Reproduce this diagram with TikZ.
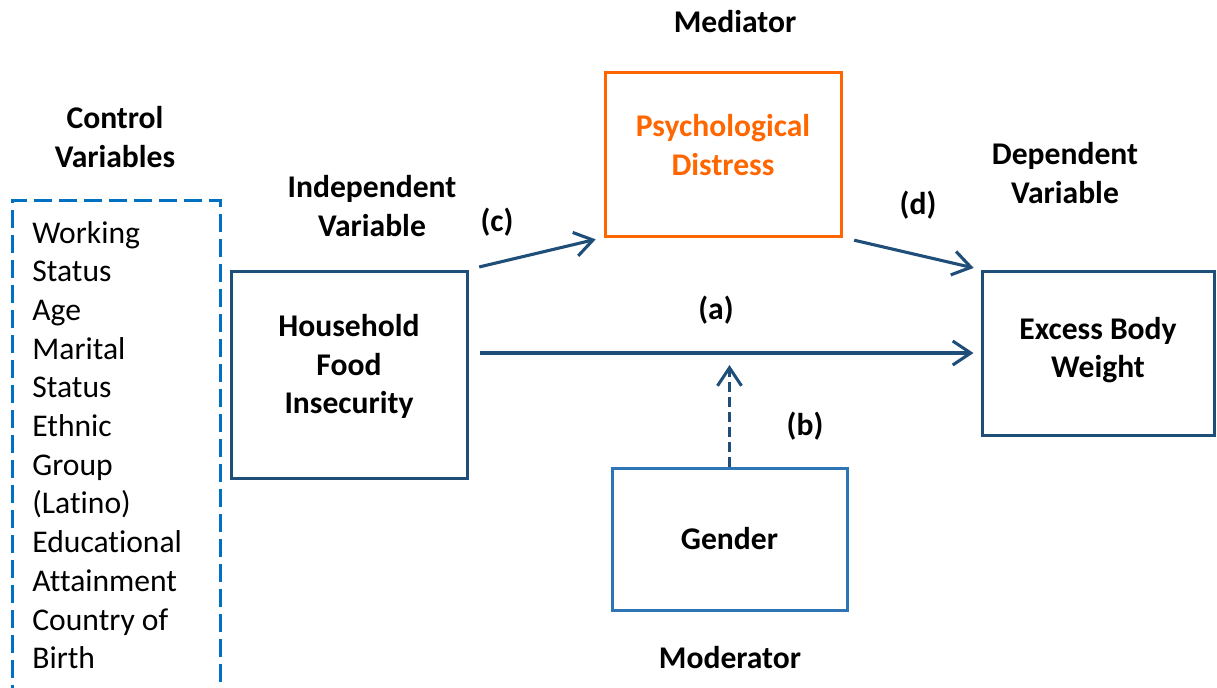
\documentclass[tikz,border=0pt]{standalone}
\usepackage{fontspec}
\setmainfont[Ligatures=NoCommon]{Carlito}
\usetikzlibrary{arrows.meta}
\definecolor{navy}{RGB}{31,78,121}
\definecolor{modblue}{RGB}{46,117,182}
\definecolor{ctrlblue}{RGB}{0,112,192}
\definecolor{medorange}{RGB}{255,102,0}

\begin{document}
\begin{tikzpicture}[x=0.5pt,y=-0.5pt,
    varbox/.style={draw=navy,line width=1.5pt,minimum width=118pt},
    lbl/.style={align=center,inner sep=1pt,font=\fontsize{15.8}{19.4}\selectfont\bfseries},
    link/.style={draw=navy,line width=1.55pt,-{Straight Barb[length=9pt,width=12pt]}}]
    \useasboundingbox (0,0) rectangle (1217,687);
    \clip (0,0) rectangle (1217,687);

    % control variables
    \node[draw=ctrlblue,line width=1.3pt,dash pattern=on 9pt off 3.5pt,
          minimum width=104pt,minimum height=262pt,anchor=north west] (ctrl) at (11,199) {};
    \foreach \txt [count=\i from 0] in {Working,Status,Age,Marital,Status,Ethnic,Group,{(Latino)},Educational,Attainment,Country of,Birth}
        \node[anchor=base west,inner sep=0pt,font=\fontsize{15.8}{19.4}\selectfont] (cv\i) at (32,{243+38.7*\i}) {\txt};

    % boxes
    \node[varbox,minimum height=103.5pt] (hfi) at (349,374.5) {};
    \node[varbox,draw=medorange,minimum height=82pt] (pd) at (723,154) {};
    \node[varbox,minimum width=116pt,minimum height=82pt] (ebw) at (1098,353) {};
    \node[varbox,draw=modblue,minimum width=117.5pt,minimum height=71pt] (gender) at (729.5,539) {};
    \node[lbl] (hfitxt) at ([yshift=4pt]hfi) {Household\\Food\\Insecurity};
    \node[lbl,text=medorange] (pdtxt) at ([yshift=4.5pt]pd) {Psychological\\Distress};
    \node[lbl] (ebwtxt) at ([yshift=1.5pt]ebw) {Excess Body\\Weight};
    \node[lbl] (gendertxt) at (gender) {Gender};

    % titles
    \node[lbl] (ctrltitle) at (115,137) {Control\\Variables};
    \node[lbl] (indeptitle) at (372,206) {Independent\\Variable};
    \node[lbl] (deptitle) at (1065,173) {Dependent\\Variable};
    \node[lbl] (medtitle) at (735,22) {Mediator};
    \node[lbl] (modtitle) at (730,658) {Moderator};

    % paths
    \draw[link,shorten <=5.5pt,shorten >=4pt] (hfi.north east) -- (pd.south west);
    \draw[link,shorten <=6pt,shorten >=3.5pt] (pd.south east) -- (ebw.north west);
    \draw[link,shorten <=5.5pt,shorten >=3.5pt] (hfi.east |- ebw.west) -- (ebw.west);
    \coordinate (bend) at (gender.north |- ebw.west);
    \draw[link,dash pattern=on 5pt off 2.5pt,shorten >=6pt] (gender.north) -- (bend);

    \node[lbl] (pc) at (497,222) {(c)};
    \node[lbl] (pd-lbl) at (918,205) {(d)};
    \node[lbl] (pa) at (716,310) {(a)};
    \node[lbl] (pb) at (805,426) {(b)};
\end{tikzpicture}
\end{document}
